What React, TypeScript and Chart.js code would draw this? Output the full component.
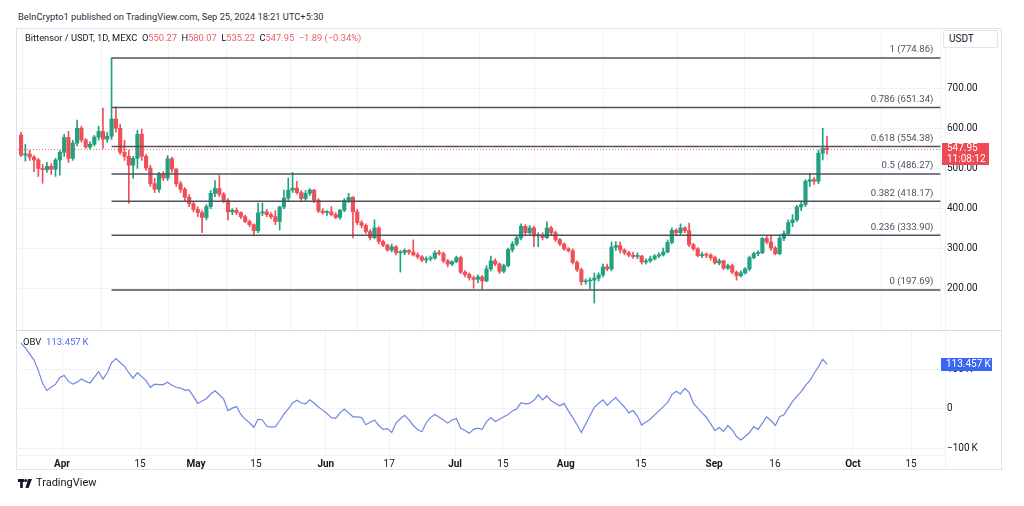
import React, { useEffect, useRef } from 'react';
import { Chart, registerables } from 'chart.js';

Chart.register(...registerables);

const FONT = 'Roboto, "Liberation Sans", Arial, sans-serif';

// ---- data -------------------------------------------------------------
// day index 0 = Apr 1 2024; first candle = Mar 22
const FIRST_DAY = -10;

// [open, high, low, close] per daily candle
const OHLC: number[][] = [
  [583, 590, 530, 533], [533, 560, 518, 536], [536, 545, 520, 528], [528, 532, 492, 521],
  [521, 525, 480, 500], [500, 510, 463, 497], [497, 515, 490, 505], [505, 512, 485, 498],
  [498, 525, 480, 521], [521, 545, 483, 540],
  [540, 585, 530, 577], [577, 592, 515, 525], [525, 570, 520, 563], [563, 620, 556, 600],
  [600, 605, 565, 571], [571, 574, 550, 553], [553, 566, 548, 560], [560, 582, 556, 578],
  [578, 605, 570, 592], [592, 650, 550, 573],
  [573, 590, 565, 580], [580, 774.86, 572, 623], [623, 653, 590, 600], [600, 610, 535, 540],
  [540, 570, 520, 530], [530, 545, 413, 508], [508, 530, 475, 525], [525, 595, 500, 585],
  [585, 598, 520, 530], [530, 535, 495, 501],
  [501, 508, 455, 462], [462, 475, 440, 448], [448, 490, 440, 486], [486, 492, 470, 476],
  [476, 532, 470, 524], [524, 528, 490, 498], [498, 500, 455, 462], [462, 468, 440, 448],
  [448, 452, 420, 428], [428, 435, 405, 412],
  [412, 418, 392, 398], [398, 405, 380, 390], [390, 395, 340, 378], [378, 410, 372, 405],
  [405, 445, 400, 438], [438, 470, 430, 450], [450, 482, 430, 436], [436, 440, 415, 420],
  [420, 425, 372, 392], [392, 400, 385, 396],
  [396, 402, 385, 390], [390, 392, 375, 380], [380, 384, 365, 368], [368, 372, 355, 360],
  [360, 362, 332, 345], [345, 414, 340, 389], [389, 414, 382, 392], [392, 398, 380, 385],
  [385, 390, 375, 380], [380, 395, 360, 368],
  [368, 406, 347, 404], [404, 446, 400, 426], [426, 476, 420, 446], [446, 490, 440, 451],
  [451, 468, 436, 440], [440, 445, 420, 425], [425, 445, 420, 438], [438, 450, 432, 446],
  [446, 448, 415, 421], [421, 425, 390, 394],
  [394, 400, 386, 390], [390, 395, 383, 392], [392, 405, 382, 385], [385, 390, 375, 378],
  [378, 398, 374, 396], [396, 425, 392, 420], [420, 438, 415, 428], [428, 430, 327, 392],
  [392, 398, 360, 365], [365, 370, 352, 358],
  [358, 362, 338, 343], [343, 348, 322, 328], [328, 372, 325, 352], [352, 355, 312, 318],
  [318, 322, 305, 309], [309, 312, 294, 297], [297, 312, 292, 305], [305, 308, 285, 290],
  [290, 296, 242, 291], [291, 300, 285, 296],
  [296, 298, 286, 292], [292, 322, 282, 285], [285, 290, 275, 280], [280, 283, 268, 272],
  [272, 280, 265, 275], [275, 282, 270, 277], [277, 295, 274, 290], [290, 296, 284, 288],
  [288, 292, 265, 270], [270, 274, 255, 262],
  [262, 270, 258, 268], [268, 282, 265, 278], [278, 282, 238, 242], [242, 246, 230, 236],
  [236, 240, 222, 228], [228, 232, 202, 224], [224, 235, 215, 230], [230, 234, 197.69, 220],
  [220, 258, 218, 250], [250, 282, 245, 270],
  [270, 275, 258, 262], [262, 265, 238, 244], [244, 262, 240, 258], [258, 302, 255, 298],
  [298, 318, 292, 312], [312, 332, 308, 327], [327, 362, 322, 356], [356, 360, 335, 340],
  [340, 358, 336, 352], [352, 356, 305, 332],
  [332, 340, 305, 334], [334, 340, 322, 328], [328, 367, 325, 352], [352, 356, 335, 340],
  [340, 344, 318, 323], [323, 326, 308, 312], [312, 315, 296, 300], [300, 303, 292, 295],
  [295, 300, 262, 266], [266, 270, 244, 248],
  [248, 252, 210, 218], [218, 225, 212, 220], [220, 228, 200, 222], [222, 240, 165, 227],
  [227, 240, 220, 235], [235, 262, 230, 255], [255, 262, 245, 250], [250, 317, 245, 304],
  [304, 318, 296, 308], [308, 317, 290, 297],
  [297, 300, 285, 290], [290, 294, 280, 284], [284, 292, 276, 281], [281, 290, 275, 282],
  [282, 284, 262, 267], [267, 275, 262, 270], [270, 282, 266, 275], [275, 286, 272, 282],
  [282, 290, 278, 285], [285, 302, 282, 292],
  [292, 322, 290, 316], [316, 352, 312, 346], [346, 350, 335, 340], [340, 362, 336, 352],
  [352, 355, 340, 345], [345, 364, 305, 310], [310, 314, 296, 300], [300, 303, 280, 283],
  [283, 292, 278, 285], [285, 290, 278, 284],
  [284, 288, 272, 278], [278, 282, 262, 265], [265, 275, 260, 270], [270, 272, 248, 252],
  [252, 262, 248, 258], [258, 262, 238, 242], [242, 245, 222, 233], [233, 245, 230, 240],
  [240, 253, 237, 250], [250, 282, 245, 278],
  [278, 292, 275, 288], [288, 295, 283, 290], [290, 328, 288, 326], [326, 332, 312, 317],
  [317, 334, 296, 302], [302, 306, 285, 288], [288, 335, 285, 326], [326, 345, 320, 338],
  [338, 372, 335, 365], [365, 385, 355, 372],
  [372, 408, 368, 404], [404, 418, 395, 410], [410, 472, 405, 468], [468, 488, 455, 472],
  [472, 478, 460, 468], [468, 545, 462, 538], [538, 600, 521, 549.84], [550.27, 580.07, 535.22, 547.95],
];

// On Balance Volume, thousands
const OBV_K: number[] = [
  167, 155, 140, 124, 98, 65, 47, 55, 63, 80,
  85, 70, 63, 68, 76, 70, 66, 80, 95, 76,
  92, 118, 128, 118, 108, 92, 78, 92, 82, 72,
  55, 63, 62, 62, 68, 60, 55, 53, 48, 48,
  32, 14, 20, 26, 38, 46, 36, 25, -4, 2,
  6, -14, -26, -35, -47, -26, -28, -44, -46, -45,
  -30, -13, 0, 15, 22, 15, 13, 23, 15, 5,
  -3, -12, -22, -24, -10, 0, -10, -20, -20, -22,
  -40, -34, -28, -42, -52, -50, -60, -36, -25, -16,
  -28, -42, -52, -58, -35, -22, -14, -21, -28, -36,
  -28, -24, -49, -55, -62, -52, -49, -52, -32, -22,
  -32, -26, -20, -14, -5, 0, 16, 13, 14, 22,
  36, 23, 33, 21, 14, 8, 14, -5, -22, -40,
  -60, -38, -17, 4, 14, 23, 9, 20, 29, 16,
  5, -10, -4, -18, -41, -33, -26, -15, -5, 6,
  16, 36, 45, 38, 52, 42, 14, 2, -10, -21,
  -38, -55, -47, -57, -42, -53, -70, -79, -70, -60,
  -45, -52, -36, -20, -30, -42, -20, -15, 2, 19,
  32, 44, 60, 72, 90, 107, 126, 113.457,
];

const PRICE_TICKS = [200, 300, 400, 500, 600, 700];
const OBV_TICKS = [-100, 0, 100];
const X_TICKS = [-0.5, 17.6, 30.6, 44.5, 60.7, 75.4, 90.7, 101.8, 116.4, 133.8, 150.8, 164.9, 183, 196.5];
const X_LABELS = ['Apr', '15', 'May', '15', 'Jun', '17', 'Jul', '15', 'Aug', '15', 'Sep', '16', 'Oct', '15'];
const MONTHS = ['Apr', 'May', 'Jun', 'Jul', 'Aug', 'Sep', 'Oct'];

const FIB_RATIOS = ['0', '0.236', '0.382', '0.5', '0.618', '0.786', '1'];
const FIB_PRICES = [197.69, 333.9, 418.17, 486.27, 554.38, 651.34, 774.86];
const FIB_START_DAY = 11;
const FIB_END_DAY = 203.3;

const LAST_O = 550.27;
const LAST_H = 580.07;
const LAST_L = 535.22;
const LAST_C = 547.95;
const LAST_CHG = -1.89;
const LAST_PCT = -0.34;
const COUNTDOWN = '11:08:12';
const OBV_LAST = 113.457;

// ---- view --------------------------------------------------------------
const X_MIN = -10.71;
const X_MAX = 204.37;
const PRICE_MIN = 98.0;
const PRICE_MAX = 849.3;
const OBV_MIN = -117;
const OBV_MAX = 198;

const UP = '#22a07f';
const DOWN = '#ef4f57';
const GRID = '#f1f2f6';
const TEXT = '#131722';
const AXIS_W = 57;

const fmtK = (v: number) => (v === 0 ? '0' : (v < 0 ? '\u2212' : '') + Math.abs(v) + '\u2009K');

function xScaleBase(showLabels: boolean): any {
  return {
    type: 'linear',
    min: X_MIN,
    max: X_MAX,
    offset: false,
    afterBuildTicks: (s: any) => {
      s.ticks = X_TICKS.map((v) => ({ value: v }));
    },
    afterFit: (s: any) => {
      s.height = showLabels ? 15 : 0;
      s.paddingLeft = 0;
      s.paddingRight = 0;
    },
    grid: { color: GRID, drawTicks: false, lineWidth: 1 },
    border: { display: false },
    ticks: {
      display: showLabels,
      autoSkip: false,
      maxRotation: 0,
      padding: 3,
      color: TEXT,
      font: (c: any) => ({
        family: FONT,
        size: 10,
        weight: MONTHS.includes(X_LABELS[c.index]) ? 'bold' : 'normal',
      }),
      callback: (_v: any, i: number) => X_LABELS[i],
    },
  };
}

const priceOverlay = {
  id: 'priceOverlay',
  afterDatasetsDraw(chart: any) {
    const { ctx, chartArea, scales } = chart;
    const xs = scales.x;
    const ys = scales.y;
    ctx.save();
    const cy = Math.round(ys.getPixelForValue(LAST_C)) + 0.5;
    ctx.setLineDash([1, 2]);
    ctx.strokeStyle = 'rgba(242,54,69,0.75)';
    ctx.lineWidth = 1;
    ctx.beginPath();
    ctx.moveTo(chartArea.left, cy);
    ctx.lineTo(chartArea.right, cy);
    ctx.stroke();
    ctx.setLineDash([]);

    const x0 = xs.getPixelForValue(FIB_START_DAY);
    const x1 = xs.getPixelForValue(FIB_END_DAY);
    ctx.strokeStyle = '#4f525c';
    ctx.lineWidth = 1.5;
    ctx.fillStyle = '#4f525c';
    ctx.font = `9.6px ${FONT}`;
    ctx.textAlign = 'right';
    ctx.textBaseline = 'middle';
    FIB_PRICES.forEach((p, i) => {
      const y = ys.getPixelForValue(p);
      ctx.beginPath();
      ctx.moveTo(x0, y);
      ctx.lineTo(x1, y);
      ctx.stroke();
      ctx.fillText(`${FIB_RATIOS[i]} (${p.toFixed(2)})`, x1 - 7, y - 8);
    });
    ctx.restore();
  },
  afterDraw(chart: any) {
    const { ctx, chartArea, scales } = chart;
    const y = scales.y.getPixelForValue(LAST_C);
    ctx.save();
    ctx.fillStyle = '#ee4a53';
    ctx.beginPath();
    ctx.rect(chartArea.right - 3, Math.round(y) - 6, 47, 22);
    ctx.fill();
    ctx.fillStyle = '#ffffff';
    ctx.font = `10px ${FONT}`;
    ctx.textAlign = 'left';
    ctx.textBaseline = 'middle';
    ctx.fillText(LAST_C.toFixed(2), chartArea.right + 2, y - 0.5);
    ctx.fillText(COUNTDOWN, chartArea.right + 2, y + 10);
    ctx.restore();
  },
};

const obvOverlay = {
  id: 'obvOverlay',
  afterDraw(chart: any) {
    const { ctx, chartArea, scales } = chart;
    const y = scales.y.getPixelForValue(OBV_LAST);
    ctx.save();
    ctx.fillStyle = '#3a66f5';
    ctx.fillRect(chartArea.right - 4, Math.round(y) - 6, 51, 13);
    ctx.fillStyle = '#ffffff';
    ctx.font = `10px ${FONT}`;
    ctx.textAlign = 'left';
    ctx.textBaseline = 'middle';
    ctx.fillText(fmtK(OBV_LAST), chartArea.right + 1, y + 0.5);
    ctx.restore();
  },
};

function priceConfig(): any {
  const colors = OHLC.map((r) => (r[3] >= r[0] ? UP : DOWN));
  return {
    type: 'bar',
    data: {
      datasets: [
        {
          label: 'body',
          data: OHLC.map((r, i) => ({ x: FIRST_DAY + i, y: [r[0], r[3]] })),
          backgroundColor: colors,
          borderWidth: 0,
          barThickness: 3.5,
          minBarLength: 1,
          grouped: false,
          order: 0,
        },
        {
          label: 'wick',
          data: OHLC.map((r, i) => ({ x: FIRST_DAY + i, y: [r[2], r[1]] })),
          backgroundColor: colors,
          borderWidth: 0,
          barThickness: 1,
          grouped: false,
          order: 1,
        },
      ],
    },
    options: {
      responsive: false,
      animation: false,
      devicePixelRatio: 1,
      layout: { padding: 0 },
      plugins: { legend: { display: false }, tooltip: { enabled: false } },
      scales: {
        x: xScaleBase(false),
        y: {
          position: 'right',
          min: PRICE_MIN,
          max: PRICE_MAX,
          afterBuildTicks: (s: any) => {
            s.ticks = PRICE_TICKS.map((v) => ({ value: v }));
          },
          afterFit: (s: any) => {
            s.width = AXIS_W;
            s.paddingTop = 0;
            s.paddingBottom = 0;
          },
          grid: { color: GRID, drawTicks: false },
          border: { display: false },
          ticks: {
            padding: 2,
            color: TEXT,
            font: { family: FONT, size: 10 },
            callback: (v: number) => Number(v).toFixed(2),
          },
        },
      },
    },
    plugins: [priceOverlay],
  };
}

function obvConfig(): any {
  return {
    type: 'line',
    data: {
      datasets: [
        {
          label: 'OBV',
          data: OBV_K.map((v, i) => ({ x: FIRST_DAY + i, y: v })),
          borderColor: '#7085e4',
          borderWidth: 1.2,
          pointRadius: 0,
          tension: 0,
          fill: false,
        },
      ],
    },
    options: {
      responsive: false,
      animation: false,
      devicePixelRatio: 1,
      layout: { padding: 0 },
      plugins: { legend: { display: false }, tooltip: { enabled: false } },
      scales: {
        x: xScaleBase(true),
        y: {
          position: 'right',
          min: OBV_MIN,
          max: OBV_MAX,
          afterBuildTicks: (s: any) => {
            s.ticks = OBV_TICKS.map((v) => ({ value: v }));
          },
          afterFit: (s: any) => {
            s.width = AXIS_W;
            s.paddingTop = 0;
            s.paddingBottom = 0;
          },
          grid: { color: GRID, drawTicks: false },
          border: { display: false },
          ticks: {
            padding: 2,
            color: TEXT,
            font: { family: FONT, size: 10 },
            callback: (v: number) => fmtK(Number(v)),
          },
        },
      },
    },
    plugins: [obvOverlay],
  };
}

const RED_TXT = '#ec5f68';

export default function App() {
  const priceRef = useRef<HTMLCanvasElement>(null);
  const obvRef = useRef<HTMLCanvasElement>(null);

  useEffect(() => {
    const c1 = new Chart(priceRef.current as HTMLCanvasElement, priceConfig());
    const c2 = new Chart(obvRef.current as HTMLCanvasElement, obvConfig());
    return () => {
      c1.destroy();
      c2.destroy();
    };
  }, []);

  const abs = (s: any) => ({ position: 'absolute', ...s } as React.CSSProperties);

  return (
    <div
      style={{
        position: 'fixed',
        left: 0,
        top: 0,
        width: 1024,
        height: 506,
        background: '#ffffff',
        fontFamily: FONT,
        color: TEXT,
        overflow: 'hidden',
      }}
    >
      <div style={abs({ left: 18, top: 10, fontSize: 9.3, lineHeight: '14px', color: '#2a2e39' })}>
        BeInCrypto1 published on TradingView.com, Sep 25, 2024 18:21 UTC+5:30
      </div>

      <div style={abs({ left: 16, top: 28, width: 986, height: 442, border: '1px solid #e0e3eb', boxSizing: 'border-box' })} />
      <div style={abs({ left: 16, top: 330, width: 986, height: 1, background: '#d6d9e0' })} />
      <div style={abs({ left: 945, top: 28, width: 1, height: 442, background: '#eef0f4' })} />
      <div style={abs({ left: 16, top: 455, width: 929, height: 1, background: '#eef0f4' })} />

      <canvas ref={priceRef} width={984} height={302} style={abs({ left: 18, top: 28, display: 'block' })} />
      <canvas ref={obvRef} width={984} height={139} style={abs({ left: 18, top: 331, display: 'block' })} />

      <div style={abs({ left: 25, top: 31, fontSize: 9.3, lineHeight: '14px', whiteSpace: 'pre' })}>
        <span>Bittensor / USDT, 1D, MEXC  </span>
        <span>O</span><span style={{ color: RED_TXT }}>{LAST_O.toFixed(2)}</span>
        <span>  H</span><span style={{ color: RED_TXT }}>{LAST_H.toFixed(2)}</span>
        <span>  L</span><span style={{ color: RED_TXT }}>{LAST_L.toFixed(2)}</span>
        <span>  C</span><span style={{ color: RED_TXT }}>{LAST_C.toFixed(2)}</span>
        <span style={{ color: RED_TXT }}>{`  \u2212${Math.abs(LAST_CHG).toFixed(2)} (\u2212${Math.abs(LAST_PCT).toFixed(2)}%)`}</span>
      </div>

      <div
        style={abs({
          left: 943,
          top: 30,
          width: 55,
          height: 18,
          border: '1px solid #e0e3eb',
          borderRadius: 2,
          boxSizing: 'border-box',
          background: '#fff',
          fontSize: 10,
          lineHeight: '16px',
          paddingLeft: 5,
        })}
      >
        USDT
      </div>

      <div style={abs({ left: 23, top: 335, fontSize: 9.5, lineHeight: '14px', whiteSpace: 'pre' })}>
        <span>OBV  </span>
        <span style={{ color: '#4d6ef0' }}>{fmtK(OBV_LAST)}</span>
      </div>

      <div style={abs({ left: 18, top: 476, display: 'flex', alignItems: 'center', gap: 4 })}>
        <svg width="14" height="9" viewBox="0 0 14 9">
          <rect x="0" y="0" width="6" height="3" fill="#131722" />
          <rect x="2.2" y="0" width="2.6" height="9" fill="#131722" />
          <circle cx="7.6" cy="1.5" r="1.5" fill="#131722" />
          <polygon points="10,0 14,0 10.5,9 7.5,9" fill="#131722" />
        </svg>
        <span style={{ fontSize: 11, lineHeight: '14px', color: '#131722' }}>TradingView</span>
      </div>
    </div>
  );
}
